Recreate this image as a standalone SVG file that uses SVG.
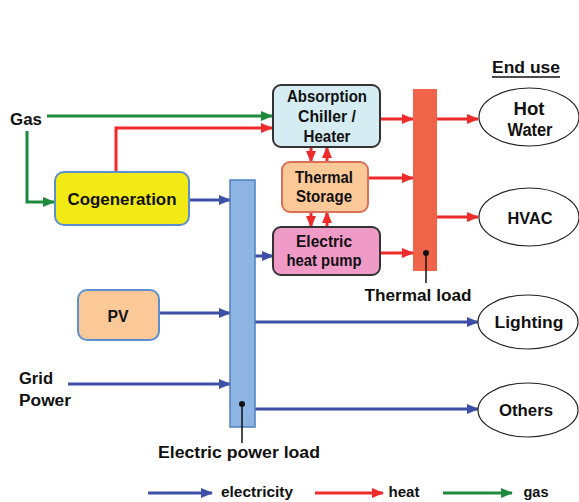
<svg xmlns="http://www.w3.org/2000/svg" width="579" height="502" viewBox="0 0 579 502">
<defs>
<style>
text{font-family:"Liberation Sans",Arial,sans-serif;font-weight:bold;font-size:16px;fill:#111;text-anchor:middle}
.e{stroke:#3d4fa6;stroke-width:3;fill:none}
.h{stroke:#ee2a2a;stroke-width:3;fill:none}
.g{stroke:#1f8a3e;stroke-width:3;fill:none}
.k{stroke:#111;stroke-width:1.5;fill:none}
.oval{fill:#fff;stroke:#222;stroke-width:1.2}
.leg{font-size:15px}
.big{font-size:18px}
</style>
<marker id="ae" markerUnits="userSpaceOnUse" markerWidth="12" markerHeight="10" refX="11" refY="5" orient="auto"><path d="M0,0L12,5L0,10z" fill="#3d4fa6"/></marker>
<marker id="ah" markerUnits="userSpaceOnUse" markerWidth="12" markerHeight="10" refX="11" refY="5" orient="auto"><path d="M0,0L12,5L0,10z" fill="#ee2a2a"/></marker>
<marker id="ag" markerUnits="userSpaceOnUse" markerWidth="12" markerHeight="10" refX="11" refY="5" orient="auto"><path d="M0,0L12,5L0,10z" fill="#1f8a3e"/></marker>
</defs>
<rect width="579" height="502" fill="#fff"/>

<g id="connectors">
<path class="g" d="M47,116H272" marker-end="url(#ag)"/>
<path class="g" d="M27,131V202H54" marker-end="url(#ag)"/>
<path class="h" d="M116,172V128H272" marker-end="url(#ah)"/>
<path class="e" d="M189,200H230" marker-end="url(#ae)"/>
<path class="e" d="M159,313H230" marker-end="url(#ae)"/>
<path class="e" d="M68,384H230" marker-end="url(#ae)"/>
<path class="e" d="M255,256H273" marker-end="url(#ae)"/>
<path class="e" d="M255,322H478" marker-end="url(#ae)"/>
<path class="e" d="M255,409H478" marker-end="url(#ae)"/>
<path class="h" d="M380,119H413" marker-end="url(#ah)"/>
<path class="h" d="M368,178H413" marker-end="url(#ah)"/>
<path class="h" d="M380,253H413" marker-end="url(#ah)"/>
<path class="h" d="M437,119H478" marker-end="url(#ah)"/>
<path class="h" d="M437,217H478" marker-end="url(#ah)"/>
<path class="h" d="M311,147V162" marker-end="url(#ah)"/>
<path class="h" d="M327,162V147" marker-end="url(#ah)"/>
<path class="h" d="M311,212V227" marker-end="url(#ah)"/>
<path class="h" d="M327,227V212" marker-end="url(#ah)"/>
</g>

<g id="electric-bar">
<rect x="230" y="180" width="25" height="247" fill="#8db4e2" stroke="#4f7fbf" stroke-width="1.5"/>
<circle cx="242" cy="404" r="3" fill="#111"/>
<path class="k" d="M242,404V443"/>
<text x="239" y="458" textLength="162" lengthAdjust="spacingAndGlyphs">Electric power load</text>
</g>

<g id="thermal-bar">
<rect x="413" y="89" width="24" height="182" fill="#f0644a"/>
<circle cx="426" cy="253" r="3" fill="#111"/>
<path class="k" d="M426,253V283"/>
<text x="418" y="301" textLength="107" lengthAdjust="spacingAndGlyphs">Thermal load</text>
</g>

<g id="gas"><text x="26" y="125" textLength="32" lengthAdjust="spacingAndGlyphs">Gas</text></g>

<g id="cogeneration">
<rect x="55" y="172" width="134" height="53" rx="9" fill="#f2ea14" stroke="#5b8fd0" stroke-width="2"/>
<text x="122" y="205" textLength="109" lengthAdjust="spacingAndGlyphs">Cogeneration</text>
</g>

<g id="absorption">
<rect x="273" y="85" width="107" height="62" rx="8" fill="#d5ecf3" stroke="#333" stroke-width="2"/>
<text x="327" y="102" textLength="80" lengthAdjust="spacingAndGlyphs">Absorption</text>
<text x="327" y="122" textLength="58" lengthAdjust="spacingAndGlyphs">Chiller /</text>
<text x="327" y="142" textLength="47" lengthAdjust="spacingAndGlyphs">Heater</text>
</g>

<g id="thermal-storage">
<rect x="282" y="162" width="86" height="50" rx="8" fill="#fbc898" stroke="#d9705a" stroke-width="2"/>
<text x="324" y="183" textLength="58" lengthAdjust="spacingAndGlyphs">Thermal</text>
<text x="324" y="202" textLength="56" lengthAdjust="spacingAndGlyphs">Storage</text>
</g>

<g id="heat-pump">
<rect x="273" y="227" width="107" height="48" rx="8" fill="#f09ac8" stroke="#333" stroke-width="2"/>
<text x="324" y="247" textLength="56" lengthAdjust="spacingAndGlyphs">Electric</text>
<text x="324" y="266" textLength="75" lengthAdjust="spacingAndGlyphs">heat pump</text>
</g>

<g id="pv">
<rect x="78" y="290" width="81" height="50" rx="9" fill="#fbc898" stroke="#5b8fd0" stroke-width="2"/>
<text x="118" y="322" textLength="21" lengthAdjust="spacingAndGlyphs">PV</text>
</g>

<g id="grid-power">
<text x="36" y="384" textLength="34" lengthAdjust="spacingAndGlyphs">Grid</text>
<text x="45" y="406" textLength="52" lengthAdjust="spacingAndGlyphs">Power</text>
</g>

<g id="end-use">
<text x="526" y="73" textLength="68" lengthAdjust="spacingAndGlyphs">End use</text>
<path d="M492,77H560" stroke="#111" stroke-width="1.5"/>
</g>

<g id="hot-water">
<ellipse class="oval" cx="529" cy="117" rx="50" ry="29"/>
<text class="big" x="529" y="115" textLength="31" lengthAdjust="spacingAndGlyphs">Hot</text>
<text class="big" x="530" y="136" textLength="45" lengthAdjust="spacingAndGlyphs">Water</text>
</g>

<g id="hvac">
<ellipse class="oval" cx="529" cy="217" rx="50" ry="29"/>
<text x="530" y="224" textLength="45" lengthAdjust="spacingAndGlyphs">HVAC</text>
</g>

<g id="lighting">
<ellipse class="oval" cx="528" cy="322" rx="50" ry="27"/>
<text x="529" y="328" textLength="69" lengthAdjust="spacingAndGlyphs">Lighting</text>
</g>

<g id="others">
<ellipse class="oval" cx="528" cy="410" rx="50" ry="27"/>
<text x="526" y="416" textLength="54" lengthAdjust="spacingAndGlyphs">Others</text>
</g>

<g id="legend">
<path class="e" d="M148,493H212" marker-end="url(#ae)"/>
<text class="leg" x="257" y="497" textLength="72" lengthAdjust="spacingAndGlyphs">electricity</text>
<path class="h" d="M315,493H383" marker-end="url(#ah)"/>
<text class="leg" x="404" y="497" textLength="31" lengthAdjust="spacingAndGlyphs">heat</text>
<path class="g" d="M443,493H512" marker-end="url(#ag)"/>
<text class="leg" x="536" y="497" textLength="25" lengthAdjust="spacingAndGlyphs">gas</text>
</g>
</svg>
